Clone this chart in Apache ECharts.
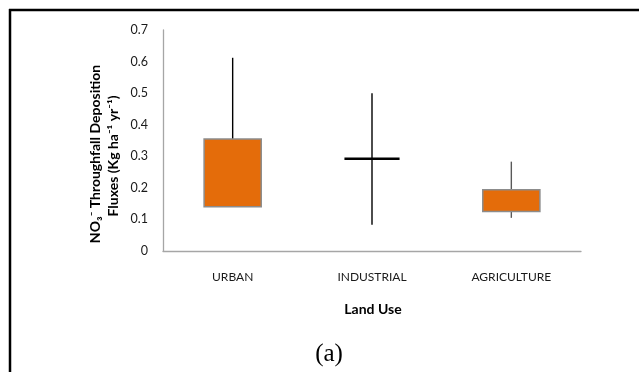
<!DOCTYPE html>
<html>
<head>
<meta charset="utf-8">
<script src="https://cdn.jsdelivr.net/npm/echarts@6/dist/echarts.min.js"></script>
<style>
  html, body { margin: 0; padding: 0; background: #fff; }
  #chart { width: 639px; height: 372px; }
</style>
</head>
<body>
<div id="chart"></div>
<script>
// Land-use categories and the five-number summaries of NO3- throughfall deposition
const categories = ['URBAN', 'INDUSTRIAL', 'AGRICULTURE'];
const whiskerHigh = [0.612, 0.500, 0.283];
const boxTop      = [0.355, 0.292, 0.194];
const boxBottom   = [0.140, 0.292, 0.125];
const whiskerLow  = [0.140, 0.083, 0.105];
const yTicks = [0, 0.1, 0.2, 0.3, 0.4, 0.5, 0.6, 0.7];

const whiskerColors = ['#000000', '#000000', '#595959'];

const seriesData = categories.map((c, i) => [i, whiskerHigh[i], boxTop[i], boxBottom[i], whiskerLow[i]]);

const chart = echarts.init(document.getElementById('chart'), null, { renderer: 'canvas' });

chart.setOption({
  backgroundColor: '#ffffff',
  animation: false,
  grid: { left: 163, right: 58, top: 30, bottom: 121 },
  xAxis: {
    type: 'category',
    data: categories,
    axisLine: { lineStyle: { color: '#a6a6a6', width: 1.3 } },
    axisTick: { show: false },
    axisLabel: { color: '#1a1a1a', fontFamily: 'Lato', fontSize: 12, margin: 20 },
    splitLine: { show: false }
  },
  yAxis: {
    type: 'value',
    min: yTicks[0],
    max: yTicks[yTicks.length - 1],
    interval: 0.1,
    axisLine: { show: true, lineStyle: { color: '#a6a6a6', width: 1.3 } },
    axisTick: { show: false },
    splitLine: { show: false },
    axisLabel: {
      color: '#1a1a1a', fontFamily: 'Lato', fontSize: 12.5, margin: 15,
      formatter: v => String(Math.round(v * 10) / 10)
    }
  },
  series: [{
    type: 'custom',
    data: seriesData,
    encode: { x: 0, y: [1, 2, 3, 4] },
    renderItem(params, api) {
      const idx = api.value(0);
      const top = api.coord([idx, api.value(1)]);
      const q3 = api.coord([idx, api.value(2)]);
      const q1 = api.coord([idx, api.value(3)]);
      const low = api.coord([idx, api.value(4)]);
      const cx = top[0];
      const bw = api.size([1, 0])[0] * 0.41;
      const children = [{
        type: 'line',
        shape: { x1: cx, y1: top[1], x2: cx, y2: low[1] },
        style: { stroke: whiskerColors[params.dataIndex], lineWidth: 1.4 }
      }];
      if (Math.abs(q1[1] - q3[1]) < 0.5) {
        children.push({
          type: 'line',
          shape: { x1: cx - bw / 2 + 1, y1: q3[1], x2: cx + bw / 2 - 1, y2: q3[1] },
          style: { stroke: '#000000', lineWidth: 2.6 }
        });
      } else {
        children.push({
          type: 'rect',
          shape: { x: cx - bw / 2, y: q3[1], width: bw, height: q1[1] - q3[1] },
          style: { fill: '#E46C0A', stroke: '#8c8c8c', lineWidth: 1.5 }
        });
      }
      return { type: 'group', children };
    }
  }],
  graphic: [
    { type: 'line', shape: { x1: 9, y1: 10, x2: 639, y2: 10 }, style: { stroke: '#000', lineWidth: 2.5 } },
    { type: 'line', shape: { x1: 10, y1: 9, x2: 10, y2: 372 }, style: { stroke: '#000', lineWidth: 2.5 } },
    {
      type: 'text', x: 95, y: 154, rotation: Math.PI / 2,
      style: {
        text: 'NO\u2083\u207B Throughfall Deposition', fill: '#000',
        font: 'bold 14px Lato', align: 'center', verticalAlign: 'middle'
      }
    },
    {
      type: 'text', x: 113, y: 156, rotation: Math.PI / 2,
      style: {
        text: 'Fluxes (Kg ha\u207B\u00B9 yr\u207B\u00B9)', fill: '#000',
        font: 'bold 14px Lato', align: 'center', verticalAlign: 'middle'
      }
    },
    {
      type: 'text', x: 373, y: 309,
      style: { text: 'Land Use', fill: '#000', font: 'bold 14px Lato', align: 'center', verticalAlign: 'middle' }
    },
    {
      type: 'text', x: 329, y: 354,
      style: { text: '(a)', fill: '#000', font: '25px "Liberation Serif"', align: 'center', verticalAlign: 'middle' }
    }
  ]
});
</script>
</body>
</html>
